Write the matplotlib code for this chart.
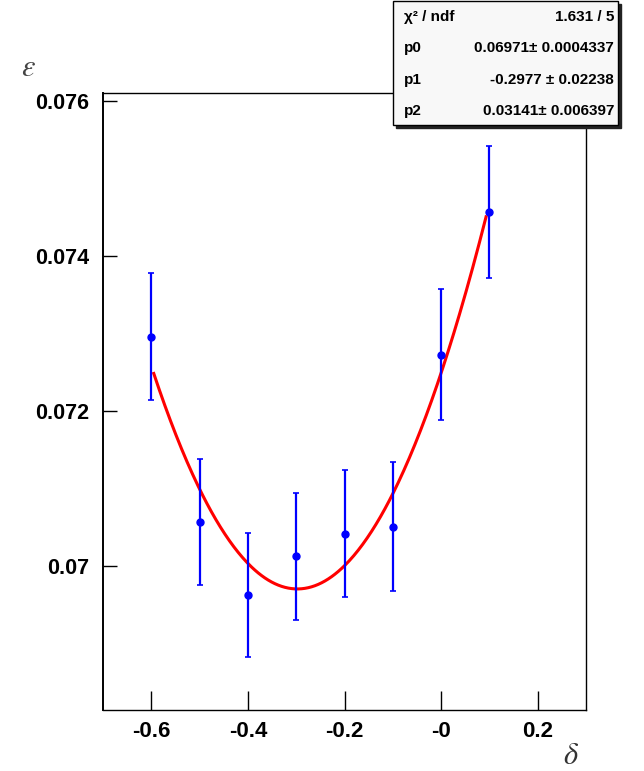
import numpy as np
import matplotlib
matplotlib.use("Agg")
import matplotlib.pyplot as plt
from matplotlib.patches import Rectangle

plt.rcParams['font.family'] = ['Liberation Sans', 'DejaVu Sans']
plt.rcParams['mathtext.fontset'] = 'stix'

# measured points
delta = [-0.6, -0.5, -0.4, -0.3, -0.2, -0.1, 0.0, 0.1]
eps = [0.07296, 0.07057, 0.06963, 0.07013, 0.07042, 0.07051, 0.07273, 0.07457]
eps_err = [0.00082, 0.00081, 0.00080, 0.00082, 0.00082, 0.00083, 0.00084, 0.00085]

# fit result: p0 + p2*(x - p1)^2
p0, p1, p2 = 0.06971, -0.2977, 0.03141
fit_range = (-0.595, 0.093)

stat_names = ['χ² / ndf', 'p0', 'p1', 'p2']
stat_values = ['1.631 / 5', '0.06971± 0.0004337', '-0.2977 ± 0.02238', '0.03141± 0.006397']

fig = plt.figure(figsize=(6.44, 7.71), dpi=100)
ax = fig.add_axes([0.160, 0.0791, 0.750, 0.8003])

xf = np.linspace(fit_range[0], fit_range[1], 300)
ax.plot(xf, p0 + p2 * (xf - p1) ** 2, color='#ff0000', lw=2.2, zorder=2)

ax.errorbar(delta, eps, yerr=eps_err, fmt='o', color='#0000ff', ms=5,
            elinewidth=1.6, capsize=2.5, capthick=1.2, zorder=3)

ax.set_xlim(-0.7, 0.3)
ax.set_ylim(0.06815, 0.0761)
ax.set_xticks([-0.6, -0.4, -0.2, 0.0, 0.2])
ax.set_xticklabels(['-0.6', '-0.4', '-0.2', '-0', '0.2'])
ax.set_yticks([0.07, 0.072, 0.074, 0.076])
ax.set_yticklabels(['0.07', '0.072', '0.074', '0.076'])
ax.tick_params(axis='x', direction='in', length=14, width=1, pad=8,
               labelsize=16, top=False)
ax.tick_params(axis='y', direction='in', length=10, width=1, pad=10,
               labelsize=15.5, right=False)
for lab in ax.get_xticklabels() + ax.get_yticklabels():
    lab.set_fontweight('bold')
for s in ax.spines.values():
    s.set_linewidth(1.0)
ax.spines['left'].set_linewidth(1.4)

fig.text(28 / 644, 1 - 68 / 771, r'$\varepsilon$', fontsize=22, color='#444444',
         ha='center', va='center')
fig.text(571 / 644, 1 - 756 / 771, r'$\delta$', fontsize=22, color='#333333',
         ha='center', va='center')

# stats box
bx0, bx1, by0, by1 = 393 / 644, 618 / 644, 1 - 125 / 771, 1 - 1 / 771
fig.patches.append(Rectangle((bx0 + 3 / 644, by0 - 3 / 771), bx1 - bx0, by1 - by0,
                             transform=fig.transFigure, facecolor='#222222',
                             edgecolor='#222222', zorder=5))
fig.patches.append(Rectangle((bx0, by0), bx1 - bx0, by1 - by0,
                             transform=fig.transFigure, facecolor='#f8f8f8',
                             edgecolor='black', lw=1.0, zorder=6))
rows_y = [17, 48, 80, 111]
for name, val, ry in zip(stat_names, stat_values, rows_y):
    fig.text(404 / 644, 1 - ry / 771, name, fontsize=11, fontweight='bold',
             ha='left', va='center', zorder=7)
    fig.text(614 / 644, 1 - ry / 771, val, fontsize=11, fontweight='bold',
             ha='right', va='center', zorder=7)

fig.savefig('out.png', dpi=100)
